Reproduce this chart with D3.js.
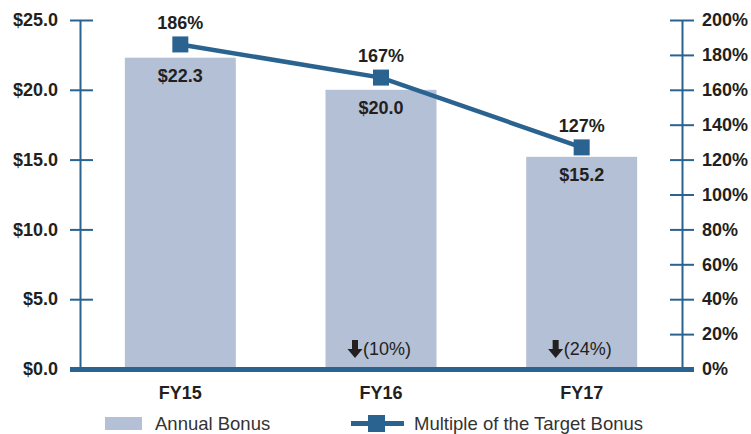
<!DOCTYPE html>
<html>
<head>
<meta charset="utf-8">
<script src="https://cdn.jsdelivr.net/npm/d3@7"></script>
<style>
  html, body { margin: 0; padding: 0; background: #fff; }
  svg { display: block; font-family: "Liberation Sans", Arial, Helvetica, sans-serif; }
</style>
</head>
<body>
<script>
// data
const years = ["FY15", "FY16", "FY17"];
const bonus = [22.3, 20.0, 15.2];          // $ millions
const multiple = [186, 167, 127];          // % of target
const changes = [null, "(10%)", "(24%)"];
const leftTicks = [0, 5, 10, 15, 20, 25];
const rightTicks = [0, 20, 40, 60, 80, 100, 120, 140, 160, 180, 200];

const W = 751, H = 434;
const blue = "#2a6390";
const barColor = "#b4c0d5";
const ink = "#231f20";
const FS = 18;

const svg = d3.select("body").append("svg")
  .attr("width", W).attr("height", H);

const x = d3.scaleBand().domain(years).range([80, 682]).paddingInner(0.447).paddingOuter(0.2235);
const yL = d3.scaleLinear().domain([0, 25]).range([369, 20]);
const yR = d3.scaleLinear().domain([0, 200]).range([369, 20]);

// bars
svg.append("g").selectAll("rect")
  .data(years)
  .join("rect")
  .attr("x", d => x(d))
  .attr("y", (d, i) => yL(bonus[i]))
  .attr("width", x.bandwidth())
  .attr("height", (d, i) => yL(0) - yL(bonus[i]))
  .attr("fill", barColor);

// left axis
const axL = svg.append("g").attr("transform", "translate(80,0)")
  .call(d3.axisLeft(yL).tickValues(leftTicks).tickSize(0).tickPadding(22)
    .tickFormat(d => "$" + d3.format(".1f")(d)));
axL.select(".domain").attr("stroke", blue).attr("stroke-width", 2);
axL.selectAll(".tick").append("line")
  .attr("x1", -10).attr("x2", 13).attr("stroke", blue).attr("stroke-width", 2);
axL.selectAll("text").attr("fill", ink).attr("font-size", FS).attr("font-weight", "bold")
  .attr("font-family", "Liberation Sans, Arial, sans-serif");

// right axis
const axR = svg.append("g").attr("transform", "translate(682,0)")
  .call(d3.axisRight(yR).tickValues(rightTicks).tickSize(0).tickPadding(20)
    .tickFormat(d => d + "%"));
axR.select(".domain").attr("stroke", blue).attr("stroke-width", 2);
axR.selectAll(".tick").append("line")
  .attr("x1", -12).attr("x2", 12).attr("stroke", blue).attr("stroke-width", 2);
axR.selectAll("text").attr("fill", ink).attr("font-size", FS).attr("font-weight", "bold")
  .attr("font-family", "Liberation Sans, Arial, sans-serif");

// thick baseline
svg.append("line")
  .attr("x1", 70).attr("x2", 694)
  .attr("y1", yL(0) + 0.5).attr("y2", yL(0) + 0.5)
  .attr("stroke", blue).attr("stroke-width", 5);

// category labels
svg.append("g").selectAll("text")
  .data(years)
  .join("text")
  .attr("x", d => x(d) + x.bandwidth() / 2)
  .attr("y", 399)
  .attr("text-anchor", "middle")
  .attr("fill", ink).attr("font-size", FS).attr("font-weight", "bold")
  .text(d => d);

// bar value labels
svg.append("g").selectAll("text")
  .data(years)
  .join("text")
  .attr("x", d => x(d) + x.bandwidth() / 2)
  .attr("y", (d, i) => yL(bonus[i]) + 24)
  .attr("text-anchor", "middle")
  .attr("fill", ink).attr("font-size", FS).attr("font-weight", "bold")
  .text((d, i) => "$" + d3.format(".1f")(bonus[i]));

// change labels
const chg = svg.append("g").selectAll("g")
  .data(years.map((d, i) => ({ year: d, txt: changes[i] })).filter(d => d.txt))
  .join("g")
  .attr("transform", d => `translate(${x(d.year) + x.bandwidth() / 2},355)`);
chg.append("path")
  .attr("d", "M-29,-15 h6 v9 h4.5 l-7.5,9 l-7.5,-9 h4.5 z")
  .attr("fill", ink);
chg.append("text")
  .attr("x", -18).attr("y", 0)
  .attr("fill", ink).attr("font-size", FS)
  .text(d => d.txt);

// line series
const cx = d => x(d) + x.bandwidth() / 2;
svg.append("path")
  .datum(years)
  .attr("fill", "none")
  .attr("stroke", blue).attr("stroke-width", 4.5)
  .attr("d", d3.line().x(d => cx(d)).y((d, i) => yR(multiple[i])));

svg.append("g").selectAll("rect")
  .data(years)
  .join("rect")
  .attr("x", d => cx(d) - 8)
  .attr("y", (d, i) => yR(multiple[i]) - 8)
  .attr("width", 16).attr("height", 16)
  .attr("fill", blue);

svg.append("g").selectAll("text")
  .data(years)
  .join("text")
  .attr("x", d => cx(d))
  .attr("y", (d, i) => yR(multiple[i]) - 15.5)
  .attr("text-anchor", "middle")
  .attr("fill", ink).attr("font-size", FS).attr("font-weight", "bold")
  .text((d, i) => multiple[i] + "%");

// legend
const lg = svg.append("g");
lg.append("rect").attr("x", 105).attr("y", 417).attr("width", 37).attr("height", 13).attr("fill", barColor);
lg.append("text").attr("x", 155).attr("y", 429.5).attr("fill", "#333").attr("font-size", 18.5).text("Annual Bonus");
lg.append("line").attr("x1", 351).attr("x2", 404).attr("y1", 423.5).attr("y2", 423.5)
  .attr("stroke", blue).attr("stroke-width", 5);
lg.append("rect").attr("x", 368).attr("y", 415).attr("width", 17).attr("height", 17).attr("fill", blue);
lg.append("text").attr("x", 414).attr("y", 429.5).attr("fill", "#333").attr("font-size", 18.5).text("Multiple of the Target Bonus");
</script>
</body>
</html>
